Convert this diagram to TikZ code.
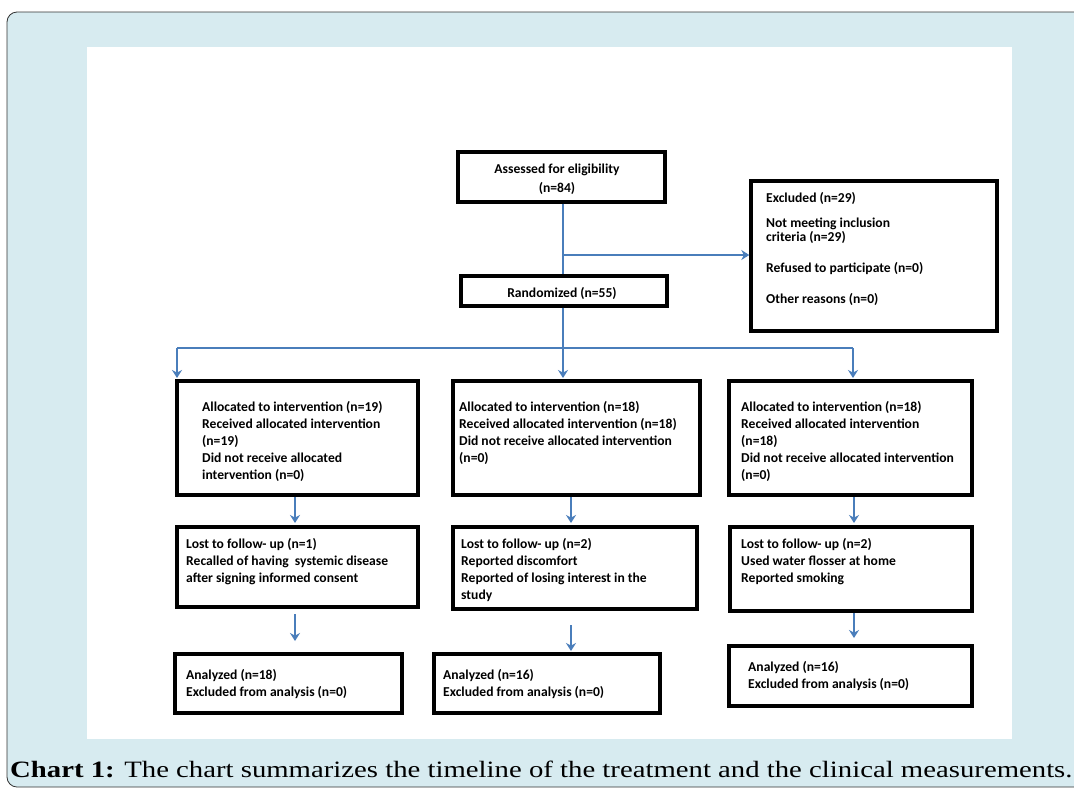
\documentclass[tikz,border=0pt]{standalone}
\usepackage{fontspec}
\setmainfont{Liberation Serif}
\newfontfamily\carl{Carlito}
\usetikzlibrary{arrows.meta}
\definecolor{bgblue}{HTML}{D7EBF0}
\definecolor{arrowblue}{HTML}{4A7EBB}
\begin{document}
\begin{tikzpicture}[x=1pt,y=-1pt,
  box/.style={draw=black, line width=3.4pt, fill=white, inner sep=0pt},
  txt/.style={anchor=north west, inner sep=0pt, align=left, font=\carl\bfseries\fontsize{13.6}{17}\selectfont},
  ctxt/.style={anchor=center, inner sep=0pt, align=center, font=\carl\bfseries\fontsize{13.6}{19}\selectfont},
  conn/.style={draw=arrowblue, line width=1.3pt},
  arr/.style={conn, -{Stealth[length=8pt,width=10pt]}}]
\useasboundingbox (0,0) rectangle (1074,788);
\fill[white] (0,0) rectangle (1074,788);
\filldraw[fill=bgblue, draw=black!80, line width=0.8pt, rounded corners=10pt] (7,12) rectangle (1100,787);
\fill[white] (87,47) rectangle (1012,739);

% boxes
\node[box, minimum width=207pt, minimum height=50pt] (assess) at (561.5,177) {};
\node[box, minimum width=206pt, minimum height=30pt] (rand) at (564,291) {};
\node[box, minimum width=246pt, minimum height=150pt] (excl) at (874,256) {};
\node[box, minimum width=241pt, minimum height=114pt] (a1) at (297.5,438) {};
\node[box, minimum width=247pt, minimum height=114pt] (b1) at (576.5,438) {};
\node[box, minimum width=243pt, minimum height=114pt] (c1) at (850.5,438) {};
\node[box, minimum width=241pt, minimum height=80pt] (a2) at (297.5,567) {};
\node[box, minimum width=244pt, minimum height=82pt] (b2) at (575,568) {};
\node[box, minimum width=242pt, minimum height=84pt] (c2) at (851,569) {};
\node[box, minimum width=227pt, minimum height=59pt] (a3) at (288.5,683.5) {};
\node[box, minimum width=226pt, minimum height=59pt] (b3) at (547,683.5) {};
\node[box, minimum width=243pt, minimum height=60pt] (c3) at (850.5,676) {};

% texts
\node[ctxt] (tassess) at (557,179) {Assessed for eligibility\\(n=84)};
\node[ctxt] (trand) at (562,293) {Randomized (n=55)};
\node[txt] (texcl) at (766,192) {Excluded (n=29)\\[8pt]Not meeting inclusion\\[-3pt]criteria (n=29)\\[14pt]Refused to participate (n=0)\\[14pt]Other reasons (n=0)};
\node[txt] (ta1) at (202,401) {Allocated to intervention (n=19)\\Received allocated intervention\\(n=19)\\Did not receive allocated\\intervention (n=0)};
\node[txt] (tb1) at (459,401) {Allocated to intervention (n=18)\\Received allocated intervention (n=18)\\Did not receive allocated intervention\\(n=0)};
\node[txt] (tc1) at (741,401) {Allocated to intervention (n=18)\\Received allocated intervention\\(n=18)\\Did not receive allocated intervention\\(n=0)};
\node[txt] (ta2) at (186,538) {Lost to follow- up (n=1)\\Recalled of having\ \ systemic disease\\after signing informed consent};
\node[txt] (tb2) at (461,538) {Lost to follow- up (n=2)\\Reported discomfort\\Reported of losing interest in the\\study};
\node[txt] (tc2) at (741,538) {Lost to follow- up (n=2)\\Used water flosser at home\\Reported smoking};
\node[txt] (ta3) at (186,669) {Analyzed (n=18)\\Excluded from analysis (n=0)};
\node[txt] (tb3) at (443,669) {Analyzed (n=16)\\Excluded from analysis (n=0)};
\node[txt] (tc3) at (748,661) {Analyzed (n=16)\\Excluded from analysis (n=0)};

% connectors
\coordinate (j1) at (563,255);
\coordinate (sp) at (563,348);
\coordinate (spl) at (177,348);
\coordinate (spr) at (853,348);
\coordinate (el) at (177,378);
\coordinate (em) at (563,378);
\coordinate (er) at (853,378);
\draw[conn] (assess.south -| j1) -- (rand.north -| j1);
\draw[arr] (j1) -- (excl.west |- j1);
\draw[conn] (rand.south -| sp) -- (sp);
\draw[conn] (spl) -- (spr);
\draw[arr] (spl) -- (el);
\draw[arr] (sp) -- (em);
\draw[arr] (spr) -- (er);

\coordinate (d1a) at (295,497);  \coordinate (d1b) at (295,523);
\coordinate (d2a) at (571,497);  \coordinate (d2b) at (571,523);
\coordinate (d3a) at (854,497);  \coordinate (d3b) at (854,523);
\draw[arr] (d1a) -- (d1b);
\draw[arr] (d2a) -- (d2b);
\draw[arr] (d3a) -- (d3b);

\coordinate (e1a) at (295,614);  \coordinate (e1b) at (295,641);
\coordinate (e2a) at (571,625);  \coordinate (e2b) at (571,651);
\coordinate (e3a) at (854,613);  \coordinate (e3b) at (854,638);
\draw[arr] (e1a) -- (e1b);
\draw[arr] (e2a) -- (e2b);
\draw[arr] (e3a) -- (e3b);

% caption
\node[anchor=base west, inner sep=0pt] (cap) at (10,777) {\resizebox{1062pt}{16.5pt}{\textbf{Chart 1:} The chart summarizes the timeline of the treatment and the clinical measurements.}};
\end{tikzpicture}
\end{document}
